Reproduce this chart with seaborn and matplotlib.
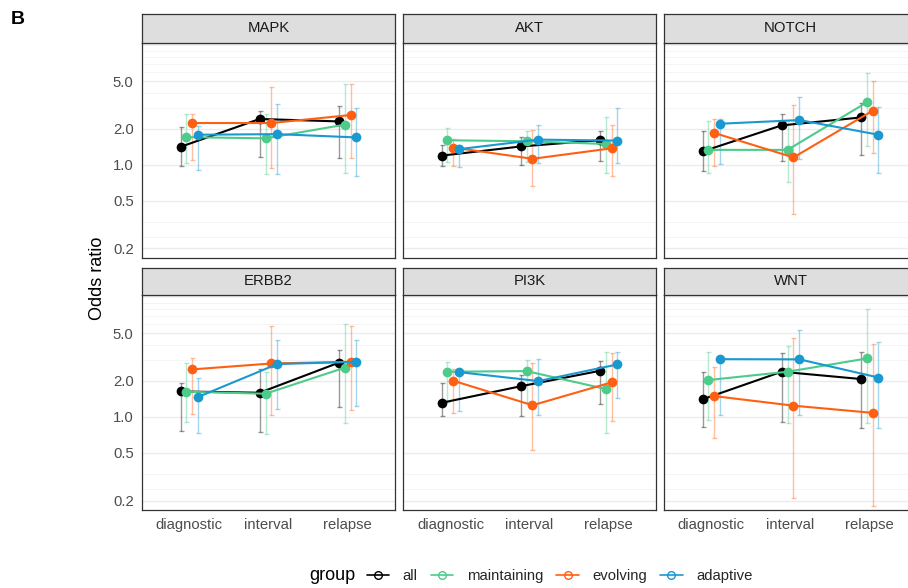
import matplotlib
matplotlib.use("Agg")
import matplotlib.pyplot as plt
from matplotlib.lines import Line2D
import seaborn as sns
import pandas as pd

pathways = ["MAPK", "AKT", "NOTCH", "ERBB2", "PI3K", "WNT"]
stages = ["diagnostic", "interval", "relapse"]
groups = ["all", "maintaining", "evolving", "adaptive"]
colors = ["#000000", "#4CCB8A", "#FF5F12", "#1A98D0"]

# odds ratios, one row per pathway (diagnostic, interval, relapse)
all_or = [[1.41, 2.41, 2.30], [1.19, 1.42, 1.60], [1.29, 2.13, 2.48],
          [1.63, 1.59, 2.83], [1.31, 1.80, 2.42], [1.40, 2.38, 2.07]]
all_lo = [[0.97, 1.15, 1.14], [0.97, 1.00, 1.07], [0.88, 1.07, 1.20],
          [0.76, 0.75, 1.20], [1.01, 1.01, 1.27], [0.82, 0.91, 0.81]]
all_hi = [[2.05, 2.82, 3.07], [1.45, 1.69, 1.92], [1.90, 2.65, 3.27],
          [1.92, 2.50, 3.61], [1.90, 2.23, 2.94], [2.38, 3.39, 3.49]]

maint_or = [[1.70, 1.66, 2.16], [1.60, 1.57, 1.49], [1.33, 1.33, 3.31],
            [1.62, 1.56, 2.57], [2.38, 2.41, 1.71], [2.03, 2.38, 3.07]]
maint_lo = [[1.03, 0.84, 0.85], [1.05, 1.05, 0.85], [0.85, 0.71, 1.42],
            [0.91, 0.72, 0.89], [1.33, 1.33, 0.74], [0.94, 0.89, 0.89]]
maint_hi = [[2.67, 2.67, 4.74], [2.02, 1.92, 2.48], [2.34, 2.37, 5.89],
            [2.79, 2.38, 5.92], [2.88, 2.98, 3.49], [3.45, 3.90, 7.89]]

evol_or = [[2.23, 2.23, 2.60], [1.39, 1.12, 1.37], [1.84, 1.15, 2.82],
           [2.49, 2.79, 2.88], [2.00, 1.25, 1.94], [1.49, 1.24, 1.08]]
evol_lo = [[1.09, 0.94, 1.14], [0.98, 0.66, 0.81], [0.98, 0.39, 1.25],
           [1.05, 1.03, 1.14], [1.08, 0.53, 0.92], [0.67, 0.21, 0.18]]
evol_hi = [[2.67, 4.48, 4.74], [1.64, 1.96, 2.16], [2.42, 3.17, 5.02],
           [3.07, 5.72, 5.72], [2.49, 2.79, 3.43], [2.62, 4.57, 4.03]]

adapt_or = [[1.78, 1.80, 1.69], [1.35, 1.62, 1.59], [2.20, 2.36, 1.78],
            [1.47, 2.76, 2.88], [2.36, 1.99, 2.74], [3.03, 3.02, 2.13]]
adapt_lo = [[0.91, 0.83, 0.81], [0.95, 1.03, 1.03], [1.02, 1.12, 0.86],
            [0.73, 1.17, 1.24], [1.12, 1.03, 1.44], [1.03, 1.03, 0.81]]
adapt_hi = [[2.12, 3.21, 2.97], [1.45, 2.16, 2.97], [2.42, 3.65, 3.01],
            [2.12, 4.37, 4.37], [2.45, 3.03, 3.49], [3.10, 5.30, 4.19]]

y_ticks = [0.2, 0.5, 1.0, 2.0, 5.0]
y_minor = [1 / 4, 1 / 3, 3, 4, 6, 7, 8, 9, 10]

series = {"all": (all_or, all_lo, all_hi),
          "maintaining": (maint_or, maint_lo, maint_hi),
          "evolving": (evol_or, evol_lo, evol_hi),
          "adaptive": (adapt_or, adapt_lo, adapt_hi)}
dodge = {"all": -0.1125, "maintaining": -0.0375, "evolving": 0.0375, "adaptive": 0.1125}

rows = []
for g in groups:
    est, lo, hi = series[g]
    for p, pathway in enumerate(pathways):
        for s, stage in enumerate(stages):
            rows.append({"pathway": pathway, "group": g, "stage": stage,
                         "x": s + dodge[g], "OR": est[p][s], "lo": lo[p][s], "hi": hi[p][s]})
df = pd.DataFrame(rows)

sns.set_theme(style="white")
plt.rcParams["font.family"] = ["Liberation Sans", "DejaVu Sans"]

W, H = 908, 588
fig = plt.figure(figsize=(W / 100, H / 100), dpi=100)

col_left = [142, 403, 664]
panel_w = 253
row_top = [43, 295]
panel_h = [214.7, 215]
strip_h = [29, 27]

tick_fs = 10.7
palette = dict(zip(groups, colors))

for i, pathway in enumerate(pathways):
    r, c = divmod(i, 3)
    x0 = col_left[c]
    y0 = row_top[r]
    ax = fig.add_axes([x0 / W, 1 - (y0 + panel_h[r]) / H, panel_w / W, panel_h[r] / H])
    sax = fig.add_axes([x0 / W, 1 - y0 / H, panel_w / W, strip_h[r] / H])
    sax.set_facecolor("#DEDEDE")
    sax.set_xticks([])
    sax.set_yticks([])
    for sp in sax.spines.values():
        sp.set_color("#333333")
        sp.set_linewidth(0.9)
    sax.text(0.5, 0.5, pathway, ha="center", va="center", fontsize=tick_fs,
             color="#1A1A1A", transform=sax.transAxes)

    sub = df[df.pathway == pathway]
    ax.set_yscale("log")
    for y in y_minor:
        ax.axhline(y, color="#F2F2F2", lw=0.6, zorder=0)
    for y in y_ticks:
        ax.axhline(y, color="#EBEBEB", lw=1.0, zorder=0)

    for g in groups:
        gs = sub[sub.group == g]
        ax.errorbar(gs.x, gs.OR, yerr=[gs.OR - gs.lo, gs.hi - gs.OR], fmt="none",
                    ecolor=palette[g], alpha=0.4, elinewidth=1.0, capsize=1.8,
                    capthick=1.0, zorder=2)
    sns.lineplot(data=sub, x="x", y="OR", hue="group", hue_order=groups,
                 palette=palette, estimator=None, sort=True, marker="o",
                 markersize=7, markeredgewidth=0, linewidth=1.5,
                 legend=False, ax=ax, zorder=3)

    ax.set_xlim(-0.6, 2.6)
    ax.set_ylim(0.167, 10.4)
    ax.set_xticks(range(len(stages)))
    ax.set_yticks(y_ticks)
    ax.minorticks_off()
    ax.set_xlabel("")
    ax.set_ylabel("")
    if r == 1:
        ax.set_xticklabels(stages)
    else:
        ax.set_xticklabels([])
    if c == 0:
        ax.set_yticklabels(["%.1f" % v for v in y_ticks])
    else:
        ax.set_yticklabels([])
    ax.tick_params(axis="x", length=4 if r == 1 else 0, width=0.9, color="#333333",
                   labelsize=tick_fs, labelcolor="#4D4D4D", pad=2)
    ax.tick_params(axis="y", length=4 if c == 0 else 0, width=0.9, color="#333333",
                   labelsize=tick_fs, labelcolor="#4D4D4D", pad=2)
    ax.set_facecolor("white")
    for sp in ax.spines.values():
        sp.set_color("#333333")
        sp.set_linewidth(0.9)

fig.text(98 / W, 1 - 278 / H, "Odds ratio", rotation=90, ha="center", va="center",
         fontsize=13, color="black")
fig.text(11 / W, 1 - 19 / H, "B", ha="left", va="center", fontsize=14,
         fontweight="bold", color="black")

fig.text(309 / W, 1 - 576 / H, "group", ha="left", va="center", fontsize=13, color="black")
handles = [Line2D([0], [0], color=col, marker="o", markerfacecolor="none",
                  markersize=5.5, markeredgewidth=1.0, linewidth=1.2) for col in colors]
fig.legend(handles, groups, loc="center left", bbox_to_anchor=(367 / W, 1 - 576 / H),
           ncol=4, frameon=False, fontsize=tick_fs, handlelength=1.5,
           handletextpad=0.9, columnspacing=0.9, borderpad=0, borderaxespad=0)

fig.savefig("out.png", dpi=100)
